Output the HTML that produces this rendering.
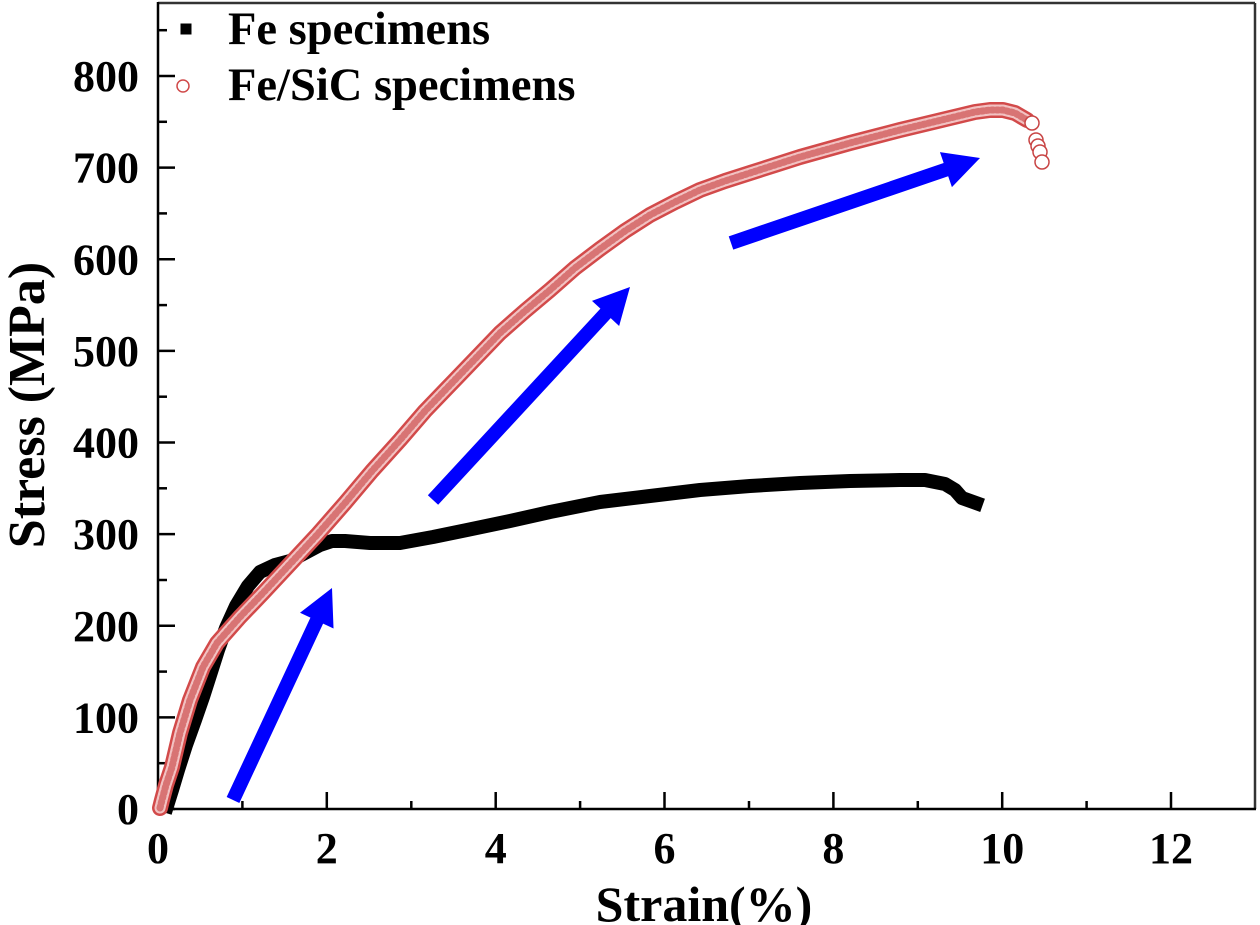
<!DOCTYPE html>
<html>
<head>
<meta charset="utf-8">
<style>
  html,body{margin:0;padding:0;background:#fff;}
  svg{display:block;}
  text{font-family:"Liberation Serif","Times New Roman",serif;font-weight:bold;fill:#000;}
</style>
</head>
<body>
<svg width="1260" height="925" viewBox="0 0 1260 925" xmlns="http://www.w3.org/2000/svg">
  <rect x="0" y="0" width="1260" height="925" fill="#fff"/>

  <!-- frame -->
  <line x1="158" y1="3" x2="1255" y2="3" stroke="#333" stroke-width="2.5"/>
  <line x1="1255" y1="3" x2="1255" y2="809" stroke="#333" stroke-width="2.5"/>
  <line x1="158" y1="2" x2="158" y2="810" stroke="#000" stroke-width="2.5"/>
  <line x1="157" y1="809" x2="1256" y2="809" stroke="#000" stroke-width="2.5"/>

  <!-- y ticks -->
  <g stroke="#000" stroke-width="2.5">
    <line x1="158" y1="809" x2="175" y2="809"/>
    <line x1="158" y1="763.2" x2="167" y2="763.2"/>
    <line x1="158" y1="717.4" x2="175" y2="717.4"/>
    <line x1="158" y1="671.6" x2="167" y2="671.6"/>
    <line x1="158" y1="625.8" x2="175" y2="625.8"/>
    <line x1="158" y1="580" x2="167" y2="580"/>
    <line x1="158" y1="534.1" x2="175" y2="534.1"/>
    <line x1="158" y1="488.3" x2="167" y2="488.3"/>
    <line x1="158" y1="442.5" x2="175" y2="442.5"/>
    <line x1="158" y1="396.7" x2="167" y2="396.7"/>
    <line x1="158" y1="350.9" x2="175" y2="350.9"/>
    <line x1="158" y1="305.1" x2="167" y2="305.1"/>
    <line x1="158" y1="259.3" x2="175" y2="259.3"/>
    <line x1="158" y1="213.4" x2="167" y2="213.4"/>
    <line x1="158" y1="167.6" x2="175" y2="167.6"/>
    <line x1="158" y1="121.8" x2="167" y2="121.8"/>
    <line x1="158" y1="76" x2="175" y2="76"/>
    <line x1="158" y1="30.2" x2="167" y2="30.2"/>
  </g>
  <!-- x ticks -->
  <g stroke="#000" stroke-width="2.5">
    <line x1="242.4" y1="809" x2="242.4" y2="801"/>
    <line x1="326.8" y1="809" x2="326.8" y2="792"/>
    <line x1="411.3" y1="809" x2="411.3" y2="801"/>
    <line x1="495.7" y1="809" x2="495.7" y2="792"/>
    <line x1="580.1" y1="809" x2="580.1" y2="801"/>
    <line x1="664.5" y1="809" x2="664.5" y2="792"/>
    <line x1="749" y1="809" x2="749" y2="801"/>
    <line x1="833.4" y1="809" x2="833.4" y2="792"/>
    <line x1="917.8" y1="809" x2="917.8" y2="801"/>
    <line x1="1002.2" y1="809" x2="1002.2" y2="792"/>
    <line x1="1086.6" y1="809" x2="1086.6" y2="801"/>
    <line x1="1171" y1="809" x2="1171" y2="792"/>
  </g>

  <!-- y tick labels -->
  <g font-size="44" text-anchor="end">
    <text x="139" y="824">0</text>
    <text x="139" y="732.4">100</text>
    <text x="139" y="640.8">200</text>
    <text x="139" y="549.1">300</text>
    <text x="139" y="457.5">400</text>
    <text x="139" y="365.9">500</text>
    <text x="139" y="274.3">600</text>
    <text x="139" y="182.6">700</text>
    <text x="139" y="91">800</text>
  </g>
  <!-- x tick labels -->
  <g font-size="44" text-anchor="middle">
    <text x="158" y="863">0</text>
    <text x="326.8" y="863">2</text>
    <text x="495.7" y="863">4</text>
    <text x="664.5" y="863">6</text>
    <text x="833.4" y="863">8</text>
    <text x="1002.2" y="863">10</text>
    <text x="1171" y="863">12</text>
  </g>

  <!-- axis titles -->
  <text x="704" y="921" font-size="50" text-anchor="middle">Strain(%)</text>
  <text transform="translate(44,405) rotate(-90)" x="0" y="0" font-size="52" text-anchor="middle">Stress (MPa)</text>

  <!-- Fe series (black squares) -->
  <polyline fill="none" stroke="#000" stroke-width="14" stroke-linejoin="round" stroke-linecap="square"
    points="167,806 172,790 178,770 186,745 195,720 203,697 211,672 218,650 226,628 236,606 248,586 260,572 275,565 290,561 305,553 320,545 332,541 345,541 370,543 400,543 433,537 467,530 510,521 550,512 600,502 650,496 700,490 750,486 800,483 850,481 900,480 925,480 945,484 955,490 962,498 976,503"/>

  <!-- Fe/SiC series (red open circles) -->
  <g fill="none" stroke-linejoin="round" stroke-linecap="round">
    <polyline stroke="#d24a4a" stroke-width="16"
      points="160,808 162,800 166,785 172,767 180,733 190,700 203,667 217,643 240,617 263,593 290,564 317,535 345,503 372,471 400,440 425,411 450,385 475,359 500,333 525,311 550,290 575,268 600,249 625,231 650,215 675,202 700,190 725,181 750,173 775,165 800,157 850,143 900,130 950,118 975,112 990,110 1003,110 1015,113 1027,120"/>
    <polyline stroke="#f2c2c2" stroke-width="11"
      points="160,808 162,800 166,785 172,767 180,733 190,700 203,667 217,643 240,617 263,593 290,564 317,535 345,503 372,471 400,440 425,411 450,385 475,359 500,333 525,311 550,290 575,268 600,249 625,231 650,215 675,202 700,190 725,181 750,173 775,165 800,157 850,143 900,130 950,118 975,112 990,110 1003,110 1015,113 1027,120"/>
    <polyline stroke="#d87474" stroke-width="7" stroke-dasharray="2 3"
      points="160,808 162,800 166,785 172,767 180,733 190,700 203,667 217,643 240,617 263,593 290,564 317,535 345,503 372,471 400,440 425,411 450,385 475,359 500,333 525,311 550,290 575,268 600,249 625,231 650,215 675,202 700,190 725,181 750,173 775,165 800,157 850,143 900,130 950,118 975,112 990,110 1003,110 1015,113 1027,120"/>
  </g>
  <g fill="#fff" stroke="#c84444" stroke-width="1.5">
    <circle cx="1032" cy="123" r="7"/>
    <circle cx="1036" cy="140" r="7"/>
    <circle cx="1038" cy="146" r="7"/>
    <circle cx="1040" cy="152" r="7"/>
    <circle cx="1042" cy="162" r="7"/>
  </g>

  <!-- blue arrows -->
  <g fill="#0000ff">
    <polygon points="226.66,797.04 310.43,617.66 300.01,612.79 332,588 333.53,628.45 323.11,623.58 239.34,802.96"/>
    <polygon points="427.86,495.25 600.42,308.68 591.98,300.87 630,287 619.14,325.99 610.70,318.18 438.14,504.75"/>
    <polygon points="728.74,236.38 943.67,163.01 939.95,152.12 980,158 951.91,187.14 948.19,176.25 733.26,249.62"/>
  </g>

  <!-- legend -->
  <rect x="180.5" y="23.5" width="11" height="11" fill="#000"/>
  <circle cx="183" cy="86" r="6" fill="#fff" stroke="#d04a4a" stroke-width="1.5"/>
  <text x="228" y="44" font-size="46.5">Fe specimens</text>
  <text x="228" y="100" font-size="46.5">Fe/SiC specimens</text>
</svg>
</body>
</html>
